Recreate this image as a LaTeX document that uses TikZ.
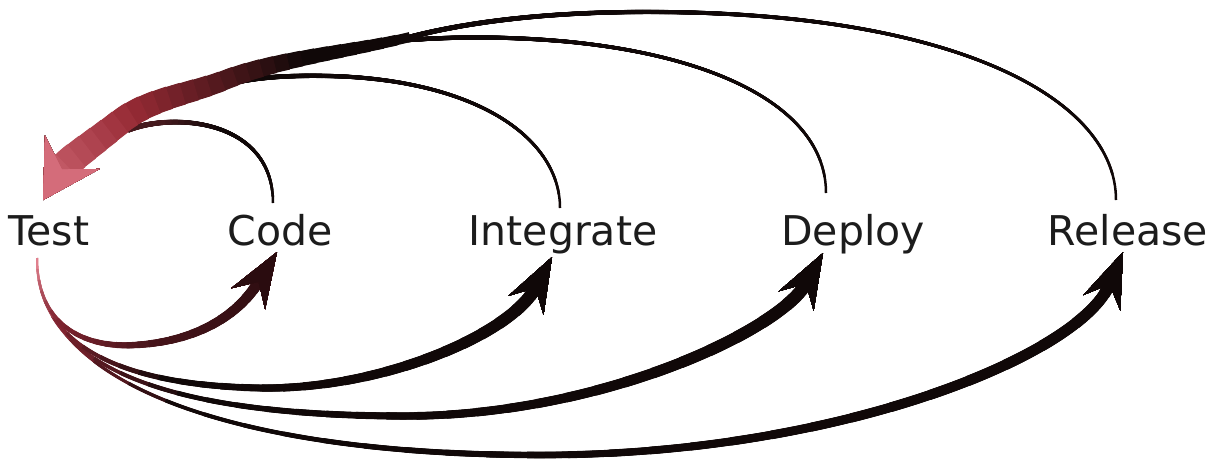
\documentclass[tikz,border=0pt]{standalone}
\usepackage{fontspec}
\setmainfont{DejaVu Sans}
\usetikzlibrary{arrows.meta,decorations.markings}
\definecolor{inkK}{RGB}{16,8,8}
\definecolor{txtK}{RGB}{28,28,28}
\definecolor{tpink}{RGB}{224,128,142}
\definecolor{hpink}{RGB}{212,108,122}
\definecolor{tred}{RGB}{150,42,52}
\definecolor{bred}{RGB}{128,36,48}
\definecolor{cmar}{RGB}{70,20,26}
\definecolor{cmarD}{RGB}{42,12,15}
\definecolor{cmarT}{RGB}{70,26,30}
% piecewise colour: #1 f, then (0,#2) (#3,#4) (#5,#6) (#7,#8), constant after #7
\newcommand\grad[8]{%
  \ifdim#1pt<#3pt
    \pgfmathtruncatemacro\tprA{100-100*(#1)/(#3)}\colorlet{tprc}{#2!\tprA!#4}%
  \else\ifdim#1pt<#5pt
    \pgfmathtruncatemacro\tprA{100-100*(#1-#3)/(#5-#3)}\colorlet{tprc}{#4!\tprA!#6}%
  \else\ifdim#1pt<#7pt
    \pgfmathtruncatemacro\tprA{100-100*(#1-#5)/(#7-#5)}\colorlet{tprc}{#6!\tprA!#8}%
  \else
    \colorlet{tprc}{#8}%
  \fi\fi\fi}
\newcommand\colBlack[1]{\colorlet{tprc}{inkK}}
\newcommand\colCodeTop[1]{\grad{#1}{inkK}{0.5}{inkK}{0.8}{cmarT}{0.95}{cmarT}}
\newcommand\colTrunk[1]{\grad{#1}{inkK}{0.25}{inkK}{0.68}{tred}{1.0001}{hpink}}
\newcommand\colRel[1]{\grad{#1}{tpink}{0.05}{bred}{0.17}{inkK}{0.5}{inkK}}
\newcommand\colDep[1]{\grad{#1}{tpink}{0.07}{bred}{0.23}{inkK}{0.5}{inkK}}
\newcommand\colInt[1]{\grad{#1}{tpink}{0.1}{bred}{0.3}{inkK}{0.6}{inkK}}
\newcommand\colCode[1]{\grad{#1}{tpink}{0.18}{bred}{0.5}{cmar}{1.0001}{cmarD}}
% #1 path, #2 w0, #3 w1, #4 colour function, #5 extra options (arrow)
\newcommand\taper[5]{%
  \path[postaction={decorate,decoration={markings,mark=at position 0 with {\pgfmathsetmacro\tprtmp{\pgfdecoratedpathlength}\xdef\tprlen{\tprtmp}}}}] #1;
  \foreach \k in {0,...,30}{%
    \pgfmathsetmacro\tprf{\k/30}%
    \pgfmathsetmacro\tprw{#2+(#3-#2)*\tprf}%
    \pgfmathsetmacro\tprs{8000-\tprlen*\tprf}%
    #4{\tprf}%
    \draw[line width=\tprw pt, draw=tprc, line cap=butt, line join=round,
          dash pattern=on 4000pt off 4000pt, dash phase=\tprs pt, #5] #1;
  }%
}
\tikzset{
  word/.style={font=\fontsize{41}{41}\selectfont, text=txtK, inner sep=0pt, anchor=base},
  bighead/.style={-{Stealth[length=56pt,width=64pt,inset=20pt,line width=0pt]}},
  smallhead/.style={-{Stealth[length=55pt,width=40pt,inset=20pt,line width=0pt]}},
  nohead/.style={}
}
\begin{document}
\begin{tikzpicture}[x=1pt,y=-1pt]
\useasboundingbox (0,0) rectangle (1224,459);
\fill[white] (0,0) rectangle (1224,459);
% words
\node[word] (test) at (49,245) {Test};
\node[word] (code) at (280,245) {Code};
\node[word] (integ) at (563,245) {Integrate};
\node[word] (deploy) at (853,245) {Deploy};
\node[word] (release) at (1128,245) {Release};
% end points
\coordinate (cT) at (273,203);
\coordinate (iT) at (560,208);
\coordinate (dT) at (826,193);
\coordinate (rT) at (1116,200);
\coordinate (J0) at (410,37);
\coordinate (J0b) at (408,40);
\coordinate (J1) at (215,88);
\coordinate (J2) at (128,130);
\coordinate (tT) at (43,200);
\coordinate (tB) at (37,258);
\coordinate (cB) at (277,252);
\coordinate (iB) at (552,257);
\coordinate (dB) at (823,253);
\coordinate (rB) at (1123,252);
% top arcs (word -> Test)
\taper{(rT) .. controls (1116,100) and (960,14) .. (660,12) .. controls (540,11) and (460,24) .. (J0)}{2.5}{5}{\colBlack}{nohead}
\taper{(dT) .. controls (826,110) and (720,55) .. (560,41) .. controls (500,36) and (450,37) .. (J0b)}{2.5}{4.5}{\colBlack}{nohead}
\taper{(iT) .. controls (560,140) and (480,80) .. (330,76) .. controls (280,75) and (245,78) .. (J1)}{2.5}{5}{\colBlack}{nohead}
\taper{(cT) .. controls (273,120) and (175,112) .. (J2)}{2.5}{5.5}{\colCodeTop}{nohead}
% trunk into Test
\taper{(J0) .. controls (351.8,51.4) and (280.8,57.8) .. (225,80) .. controls (189.7,94.1) and (149.6,98.4) .. (120,122) .. controls (92.7,143.7) and (66.4,161.8) .. (tT)}{10}{32}{\colTrunk}{bighead}
% bottom arcs (Test -> word)
\taper{(tB) .. controls (37,390) and (250,455) .. (540,455) .. controls (840,455) and (1080,355) .. (rB)}{2}{12}{\colRel}{smallhead}
\taper{(tB) .. controls (37,360) and (150,415) .. (400,416) .. controls (600,417) and (780,330) .. (dB)}{2}{13.5}{\colDep}{smallhead}
\taper{(tB) .. controls (37,340) and (110,385) .. (260,388) .. controls (380,390) and (510,335) .. (iB)}{2}{13.5}{\colInt}{smallhead}
\taper{(tB) .. controls (37,330) and (90,348) .. (135,345) .. controls (190,342) and (235,320) .. (cB)}{2}{12}{\colCode}{smallhead}
\end{tikzpicture}
\end{document}
